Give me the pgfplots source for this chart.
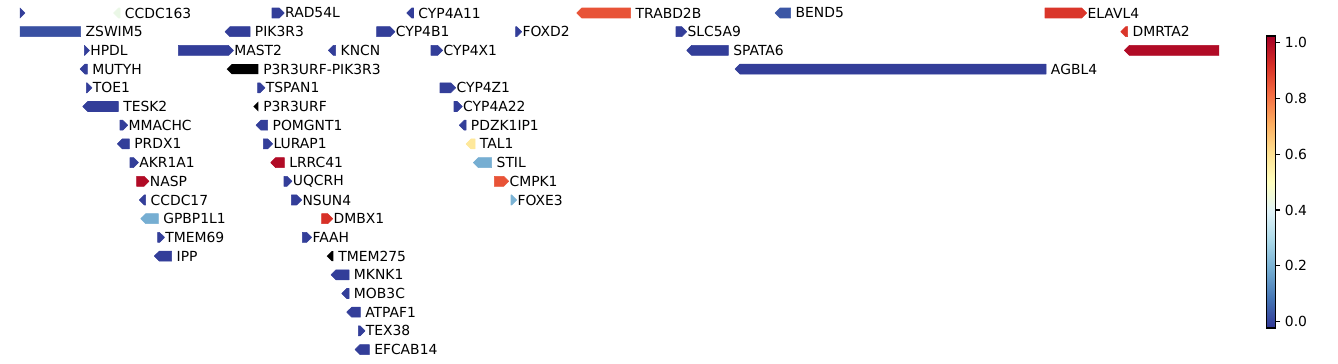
\documentclass[border=0pt]{standalone}
\usepackage{fontspec}
\setmainfont{DejaVu Sans}
\usepackage{pgfplots}
\pgfplotsset{compat=1.18}
\usepackage{pgfplotstable}
\usepgfplotslibrary{patchplots}

% s e : gene start/end (x), r : track row, d : strand (+1/-1),
% c : value (-9 = no value, drawn black), lab : 1 if labelled
\pgfplotstableread{
s e r d c lab name
18 25 0 1 -0.01 0 none
113.5 120 0 -1 0.43 1 CCDC163
272 284.3 0 1 -0.01 1 RAD54L
406.7 413.5 0 -1 -0.01 1 CYP4A11
576.7 630.7 0 -1 0.86 1 TRABD2B
775 790.7 0 -1 0.03 1 BEND5
1045 1086.7 0 1 0.91 1 ELAVL4
5 80.7 1 -1 0.02 1 ZSWIM5
225 250 1 -1 -0.01 1 PIK3R3
376.7 395 1 1 -0.01 1 CYP4B1
515.7 521.7 1 1 -0.01 1 FOXD2
676 686.7 1 1 -0.01 1 SLC5A9
1120.7 1127.7 1 -1 0.91 1 DMRTA2
84.3 89.5 2 1 -0.01 1 HPDL
178.3 233.5 2 1 -0.01 1 MAST2
328.3 335.7 2 -1 -0.01 1 KNCN
431 442.7 2 1 -0.01 1 CYP4X1
686.7 728.3 2 -1 -0.01 1 SPATA6
1124.3 1240 2 -1 1.0 0 none
80 87.3 3 -1 -0.01 1 MUTYH
226.7 258.3 3 -1 -9 1 P3R3URF-PIK3R3
735 1046 3 -1 -0.01 1 AGBL4
86.3 92 4 1 -0.01 1 TOE1
257.7 265 4 1 -0.01 1 TSPAN1
440 455.7 4 1 -0.01 1 CYP4Z1
82.7 118.3 5 -1 -0.01 1 TESK2
253.3 258.3 5 -1 -9 1 P3R3URF
454 462.3 5 1 -0.01 1 CYP4A22
120 127.7 6 1 -0.01 1 MMACHC
256 267.7 6 -1 -0.01 1 POMGNT1
459.3 466 6 -1 -0.01 1 PDZK1IP1
117.3 129.3 7 -1 -0.01 1 PRDX1
263.3 272.7 7 1 -0.01 1 LURAP1
466 475 7 -1 0.58 1 TAL1
130 138.5 8 1 -0.01 1 AKR1A1
270.7 284.3 8 -1 1.0 1 LRRC41
473.3 491.7 8 -1 0.19 1 STIL
136.7 149 9 1 1.0 1 NASP
284 292 9 1 -0.01 1 UQCRH
494.3 508.7 9 1 0.86 1 CMPK1
139.3 145.7 10 -1 -0.01 1 CCDC17
291.3 301.7 10 1 -0.01 1 NSUN4
511 516.7 10 1 0.2 1 FOXE3
140.7 158.3 11 -1 0.19 1 GPBP1L1
321.7 332.7 11 1 0.92 1 DMBX1
157.7 164.5 12 1 -0.01 1 TMEM69
302.3 311.7 12 1 -0.01 1 FAAH
154.3 171.7 13 -1 -0.01 1 IPP
326.7 333.3 13 -1 -9 1 TMEM275
331 349 14 -1 -0.01 1 MKNK1
341.7 349 15 -1 -0.01 1 MOB3C
346.7 360.3 16 -1 -0.01 1 ATPAF1
358.3 365 17 1 -0.01 1 TEX38
355 369.3 18 -1 -0.01 1 EFCAB14
}\genes

\tikzset{genelabel/.style={anchor=west, inner sep=0pt, font=\fontsize{10}{12}\selectfont}}

\begin{document}
\begin{tikzpicture}
\useasboundingbox (0,0) rectangle (963.36pt,262.08pt);
\begin{axis}[
  at={(14.4pt,259.45pt)}, anchor=north west,
  scale only axis, width=863.28pt, height=255.8pt,
  xmin=20, xmax=1219, ymin=-0.5, ymax=18.5, y dir=reverse,
  hide axis,
  colormap={rdylbu}{rgb255=(49,54,149) rgb255=(69,117,180) rgb255=(116,173,209) rgb255=(171,217,233) rgb255=(224,243,248) rgb255=(255,255,191) rgb255=(254,224,144) rgb255=(253,174,97) rgb255=(244,109,67) rgb255=(215,48,39) rgb255=(165,0,38)},
  point meta min=-0.023, point meta max=1.024,
  colorbar,
  colorbar style={
    at={(parent axis.north east)}, anchor=north west,
    xshift=25.92pt, yshift=-23.3pt,
    scale only axis, width=6pt, height=210.2pt,
    ytick={0,0.2,0.4,0.6,0.8,1},
    tick align=outside, major tick length=3.5pt,
    ytick pos=right,
    axis line style={line width=0.8pt},
    every tick/.style={line width=0.8pt, black},
    yticklabel style={font=\fontsize{10}{12}\selectfont,
      /pgf/number format/.cd, fixed, fixed zerofill, precision=1, assume math mode=true},
  },
]
\pgfplotstablegetrowsof{\genes}
\pgfmathtruncatemacro\N{\pgfplotsretval-1}
\pgfplotsinvokeforeach{0,...,\N}{
  \pgfplotstablegetelem{#1}{s}\of\genes\let\gnS\pgfplotsretval
  \pgfplotstablegetelem{#1}{e}\of\genes\let\gnE\pgfplotsretval
  \pgfplotstablegetelem{#1}{r}\of\genes\let\gnR\pgfplotsretval
  \pgfplotstablegetelem{#1}{d}\of\genes\let\gnD\pgfplotsretval
  \pgfplotstablegetelem{#1}{c}\of\genes\let\gnC\pgfplotsretval
  \pgfplotstablegetelem{#1}{lab}\of\genes\let\gnL\pgfplotsretval
  \pgfplotstablegetelem{#1}{name}\of\genes\let\gnN\pgfplotsretval
  \pgfmathsetmacro\ha{min(5,\gnE-\gnS)}
  \pgfmathsetmacro\ylo{\gnR-0.267}
  \pgfmathsetmacro\yhi{\gnR+0.267}
  \ifnum\gnD>0
    \pgfmathsetmacro\xa{\gnS}\pgfmathsetmacro\xb{\gnE-\ha}\pgfmathsetmacro\xt{\gnE}\pgfmathsetmacro\lx{\gnE+0.6}
  \else
    \pgfmathsetmacro\xa{\gnE}\pgfmathsetmacro\xb{\gnS+\ha}\pgfmathsetmacro\xt{\gnS}\pgfmathsetmacro\lx{\gnE+4.7}
  \fi
  \ifdim\gnC pt<-1pt
    \edef\tmp{\noexpand\addplot[fill=black, draw=none, forget plot] coordinates {(\xa,\ylo) (\xb,\ylo) (\xt,\gnR) (\xb,\yhi) (\xa,\yhi)};}
  \else
    \edef\tmp{\noexpand\addplot[patch, patch type=polygon, vertex count=5, shader=flat, point meta=explicit, forget plot] coordinates {(\xa,\ylo) [\gnC] (\xb,\ylo) [\gnC] (\xt,\gnR) [\gnC] (\xb,\yhi) [\gnC] (\xa,\yhi) [\gnC]};}
  \fi
  \tmp
  \ifnum\gnL=1
    \edef\tmp{\noexpand\node[genelabel] at (axis cs:\lx,\gnR) {\gnN};}
    \tmp
  \fi
}
\end{axis}
\end{tikzpicture}
\end{document}
